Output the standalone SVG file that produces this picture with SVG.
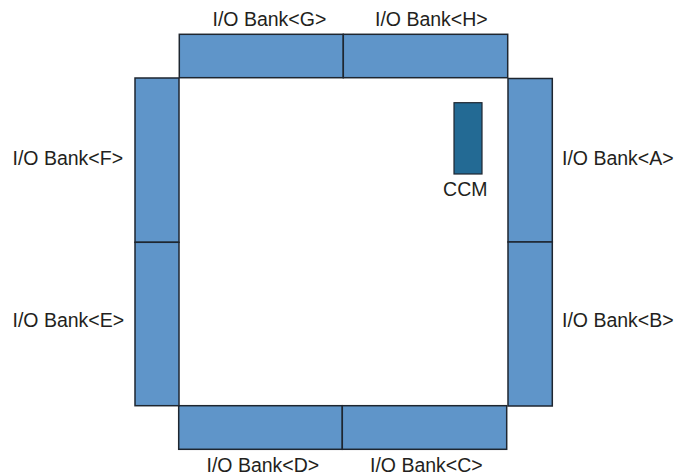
<svg xmlns="http://www.w3.org/2000/svg" width="676" height="476" viewBox="0 0 676 476">
  <style>
    .bank { fill: #5f95c9; stroke: #1e2630; stroke-width: 1.5; }
    .lbl { font-family: "Liberation Sans", Arial, sans-serif; font-size: 19.5px; fill: #231f20; }
    .ccm { fill: #236a94; stroke: #1e2630; stroke-width: 1.2; }
  </style>
  <rect x="0" y="0" width="676" height="476" fill="#ffffff"/>

  <!-- die interior -->
  <rect id="die" x="179" y="78" width="329" height="328" fill="#ffffff"/>

  <!-- top banks -->
  <g id="bank-G">
    <rect class="bank" x="179.3" y="34.3" width="164" height="43.4"/>
    <text class="lbl" x="212.5" y="25.7">I/O Bank&lt;G&gt;</text>
  </g>
  <g id="bank-H">
    <rect class="bank" x="343.3" y="34.3" width="164.4" height="43.4"/>
    <text class="lbl" x="375" y="25.7">I/O Bank&lt;H&gt;</text>
  </g>

  <!-- right banks -->
  <g id="bank-A">
    <rect class="bank" x="508" y="78.5" width="44.3" height="163.5"/>
    <text class="lbl" x="562" y="165.3">I/O Bank&lt;A&gt;</text>
  </g>
  <g id="bank-B">
    <rect class="bank" x="508" y="242" width="44.3" height="164"/>
    <text class="lbl" x="562" y="327">I/O Bank&lt;B&gt;</text>
  </g>

  <!-- bottom banks -->
  <g id="bank-D">
    <rect class="bank" x="178.7" y="405.7" width="163.6" height="43.6"/>
    <text class="lbl" x="206.5" y="471.7">I/O Bank&lt;D&gt;</text>
  </g>
  <g id="bank-C">
    <rect class="bank" x="342.3" y="405.7" width="164.4" height="43.6"/>
    <text class="lbl" x="370" y="471.7">I/O Bank&lt;C&gt;</text>
  </g>

  <!-- left banks -->
  <g id="bank-F">
    <rect class="bank" x="135" y="78" width="44" height="164.3"/>
    <text class="lbl" x="12.5" y="165">I/O Bank&lt;F&gt;</text>
  </g>
  <g id="bank-E">
    <rect class="bank" x="135" y="242.3" width="44" height="163.4"/>
    <text class="lbl" x="12.5" y="327">I/O Bank&lt;E&gt;</text>
  </g>

  <!-- clock management block -->
  <g id="ccm">
    <rect class="ccm" x="454" y="102.7" width="28" height="71.3"/>
    <text class="lbl" x="465.3" y="196" text-anchor="middle" font-size="16.5">CCM</text>
  </g>

  <g id="connectors"></g>
</svg>
